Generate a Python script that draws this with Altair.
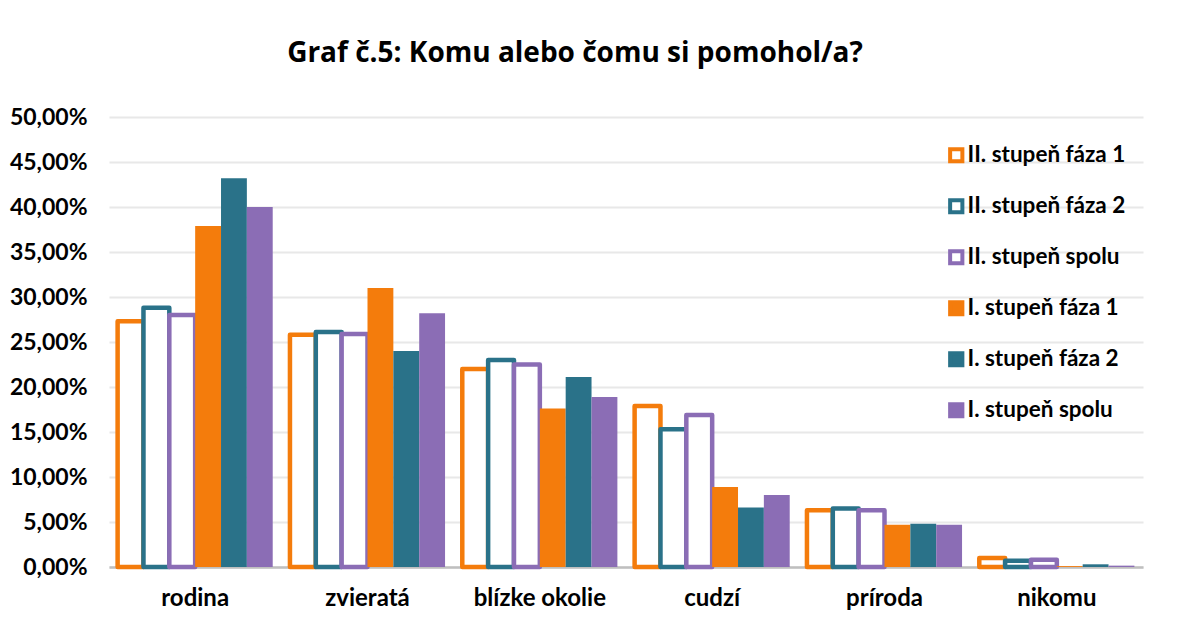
import altair as alt
import pandas as pd

categories = ["rodina", "zvieratá", "blízke okolie", "cudzí", "príroda", "nikomu"]
series = [
    "II. stupeň fáza 1",
    "II. stupeň fáza 2",
    "II. stupeň spolu",
    "I. stupeň fáza 1",
    "I. stupeň fáza 2",
    "I. stupeň spolu",
]
ii_faza1 = [27.3, 25.8, 22.0, 17.9, 6.3, 1.0]
ii_faza2 = [28.8, 26.1, 23.0, 15.3, 6.5, 0.7]
ii_spolu = [28.0, 25.9, 22.5, 16.9, 6.3, 0.8]
i_faza1 = [37.9, 31.0, 17.6, 8.9, 4.7, 0.1]
i_faza2 = [43.2, 24.0, 21.1, 6.6, 4.8, 0.3]
i_spolu = [40.0, 28.2, 18.9, 8.0, 4.7, 0.15]
y_ticks = [0, 0.05, 0.10, 0.15, 0.20, 0.25, 0.30, 0.35, 0.40, 0.45, 0.50]

base_colors = ["#F47C0C", "#2A7289", "#8B6DB5"]
stroke_colors = base_colors * 2
fill_colors = ["#FFFFFF"] * 3 + base_colors

rows = []
for s, vals in zip(series, [ii_faza1, ii_faza2, ii_spolu, i_faza1, i_faza2, i_spolu]):
    for c, v in zip(categories, vals):
        rows.append({"kat": c, "seria": s, "hodnota": v / 100})
df = pd.DataFrame(rows)

legend = alt.Legend(
    title=None,
    orient="none",
    legendX=836,
    legendY=27,
    symbolType="square",
    symbolSize=150,
    symbolStrokeWidth=4,
    labelFont="Lato",
    labelFontSize=22.5,
    labelFontWeight="bold",
    labelColor="#000000",
    labelOffset=0,
    labelLimit=400,
    rowPadding=22,
)

chart = (
    alt.Chart(df)
    .mark_bar(strokeJoin="round")
    .encode(
        x=alt.X(
            "kat:N",
            sort=categories,
            scale=alt.Scale(paddingInner=0.1, paddingOuter=0.05),
            axis=alt.Axis(
                title=None,
                labelAngle=0,
                ticks=False,
                domainColor="#bfbfbf",
                domainWidth=2.5,
                labelFont="Lato",
                labelFontSize=24,
                labelFontWeight="bold",
                labelColor="#000000",
                labelPadding=19,
            ),
        ),
        xOffset=alt.XOffset(
            "seria:N",
            sort=series,
            scale=alt.Scale(domain=series, paddingInner=0, paddingOuter=0),
        ),
        y=alt.Y(
            "hodnota:Q",
            scale=alt.Scale(domain=[0, 0.5], nice=False),
            axis=alt.Axis(
                title=None,
                values=y_ticks,
                labelExpr="replace(format(datum.value, '.2%'), '.', ',')",
                domain=False,
                ticks=False,
                grid=True,
                gridColor="#e8e8e8",
                gridWidth=2,
                labelFont="Lato",
                labelFontSize=23,
                labelFontWeight="bold",
                labelColor="#000000",
                labelPadding=22,
            ),
        ),
        stroke=alt.Stroke(
            "seria:N", sort=series, scale=alt.Scale(domain=series, range=stroke_colors), legend=legend
        ),
        fill=alt.Fill(
            "seria:N", sort=series, scale=alt.Scale(domain=series, range=fill_colors), legend=legend
        ),
        strokeWidth=alt.condition(
            "indexof(datum.seria, 'II.') === 0", alt.value(4.5), alt.value(0)
        ),
    )
    .properties(
        width=1034,
        height=450,
        autosize=alt.AutoSizeParams(type="none"),
        padding={"left": 101, "top": 109, "right": 33, "bottom": 44},
        title=alt.TitleParams(
            "Graf č.5: Komu alebo čomu si pomohol/a?",
            font="Open Sans",
            fontSize=28,
            fontWeight="bold",
            color="#000000",
            anchor="middle",
            frame="group",
            dx=-51,
            offset=38,
        ),
        background="#ffffff",
    )
    .configure_view(stroke=None)
)

chart.save("out.html", embed_options={"renderer": "svg", "actions": False})
